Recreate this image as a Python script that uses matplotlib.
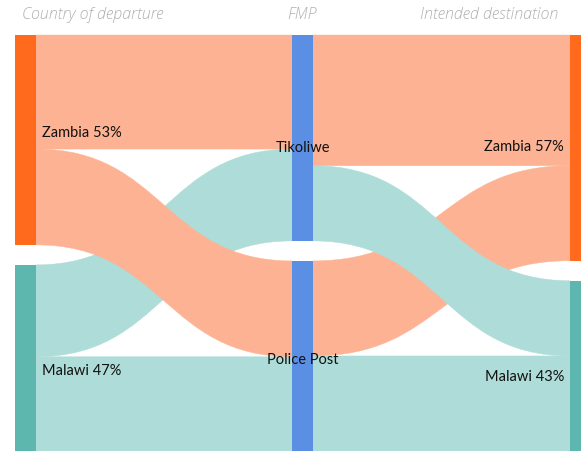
import matplotlib
matplotlib.use("Agg")
import matplotlib.pyplot as plt
from matplotlib.path import Path
from matplotlib.patches import PathPatch, Rectangle

# ---- data -------------------------------------------------------------
column_titles = ["Country of departure", "FMP", "Intended destination"]
departure = ["Zambia", "Malawi"]
departure_share = [53, 47]
fmp = ["Tikoliwe", "Police Post"]
destination = ["Zambia", "Malawi"]
destination_share = [57, 43]

# departure -> FMP flows (share of all travellers, %)
flow_dep_fmp = [
    ("Zambia", "Tikoliwe", 28.8),
    ("Zambia", "Police Post", 24.2),
    ("Malawi", "Tikoliwe", 23.2),
    ("Malawi", "Police Post", 23.8),
]
# FMP -> destination flows (%)
flow_fmp_dest = [
    ("Tikoliwe", "Zambia", 33.0),
    ("Tikoliwe", "Malawi", 19.0),
    ("Police Post", "Zambia", 24.0),
    ("Police Post", "Malawi", 24.0),
]

# ---- style ------------------------------------------------------------
node_color = {"Zambia": "#FF6A1C", "Malawi": "#5EB7AF"}
link_color = {"Zambia": "#FDB293", "Malawi": "#AEDCD8"}
fmp_color = "#5B8FE4"

W, H = 581, 452
fig = plt.figure(figsize=(W / 100, H / 100), dpi=100)
ax = fig.add_axes([0, 0, 1, 1])
ax.set_xlim(0, W)
ax.set_ylim(H, 0)
ax.axis("off")

top, bottom, gap = 36, 452, 20
unit = (bottom - top - gap) / 100.0
node_w = 21
col_x = [15, 292, 570]


def layout(names, values):
    pos, y = {}, top
    for n, v in zip(names, values):
        h = v * unit
        pos[n] = [y, y + h]
        y += h + gap
    return pos


fmp_share = [sum(v for s, t, v in flow_dep_fmp if t == f) for f in fmp]
nodes = [layout(departure, departure_share),
         layout(fmp, fmp_share),
         layout(destination, destination_share)]


def ribbon(x0, a0, a1, x1, b0, b1, color, z):
    xm = (x0 + x1) / 2
    verts = [(x0, a0), (xm, a0), (xm, b0), (x1, b0),
             (x1, b1), (xm, b1), (xm, a1), (x0, a1), (x0, a0)]
    codes = [Path.MOVETO, Path.CURVE4, Path.CURVE4, Path.CURVE4,
             Path.LINETO, Path.CURVE4, Path.CURVE4, Path.CURVE4, Path.CLOSEPOLY]
    ax.add_patch(PathPatch(Path(verts, codes), facecolor=color,
                           edgecolor=color, lw=0.3, zorder=z))


def draw_stage(flows, src_pos, dst_pos, x0, x1, color_key):
    out_cursor = {k: v[0] for k, v in src_pos.items()}
    in_cursor = {k: v[0] for k, v in dst_pos.items()}
    n = len(flows)
    for i, (s, t, v) in enumerate(flows):
        h = v * unit
        a0 = out_cursor[s]; out_cursor[s] += h
        b0 = in_cursor[t]; in_cursor[t] += h
        c = link_color[s if color_key == "source" else t]
        ribbon(x0, a0, a0 + h, x1, b0, b0 + h, c, z=1 + (n - i) * 0.01)


draw_stage(flow_dep_fmp, nodes[0], nodes[1],
           col_x[0] + node_w, col_x[1], "source")
draw_stage(flow_fmp_dest, nodes[1], nodes[2],
           col_x[1] + node_w, col_x[2], "target")

# node bars
for n, (y0, y1) in nodes[0].items():
    ax.add_patch(Rectangle((col_x[0], y0), node_w, y1 - y0,
                           color=node_color[n], zorder=3, lw=0))
for n, (y0, y1) in nodes[1].items():
    ax.add_patch(Rectangle((col_x[1], y0), node_w, y1 - y0,
                           color=fmp_color, zorder=3, lw=0))
for n, (y0, y1) in nodes[2].items():
    ax.add_patch(Rectangle((col_x[2], y0), node_w, y1 - y0,
                           color=node_color[n], zorder=3, lw=0))

# node labels
lab_font = dict(family=["Lato", "DejaVu Sans"], fontsize=10.5,
                color="#111111", zorder=5)
dep_off = {"Zambia": -8, "Malawi": 12}
for n, v in zip(departure, departure_share):
    y0, y1 = nodes[0][n]
    ax.text(col_x[0] + node_w + 6, (y0 + y1) / 2 + dep_off[n], f"{n} {v}%",
            ha="left", va="center", **lab_font)
fmp_off = {"Tikoliwe": 9, "Police Post": 3}
for n in fmp:
    y0, y1 = nodes[1][n]
    ax.text(col_x[1] + node_w / 2, (y0 + y1) / 2 + fmp_off[n], n,
            ha="center", va="center", **lab_font)
dst_off = {"Zambia": -2, "Malawi": 10}
for n, v in zip(destination, destination_share):
    y0, y1 = nodes[2][n]
    ax.text(col_x[2] - 6, (y0 + y1) / 2 + dst_off[n], f"{n} {v}%",
            ha="right", va="center", **lab_font)

# column titles
title_font = dict(family=["Open Sans", "DejaVu Sans"], fontsize=11.5,
                  style="italic", weight="light", color="#B0B0B0")
ax.text(22, 15, column_titles[0], ha="left", va="center", **title_font)
ax.text(col_x[1] + node_w / 2, 15, column_titles[1], ha="center",
        va="center", **title_font)
ax.text(558, 15, column_titles[2], ha="right", va="center", **title_font)

fig.savefig("out.png", dpi=100, facecolor="white")
